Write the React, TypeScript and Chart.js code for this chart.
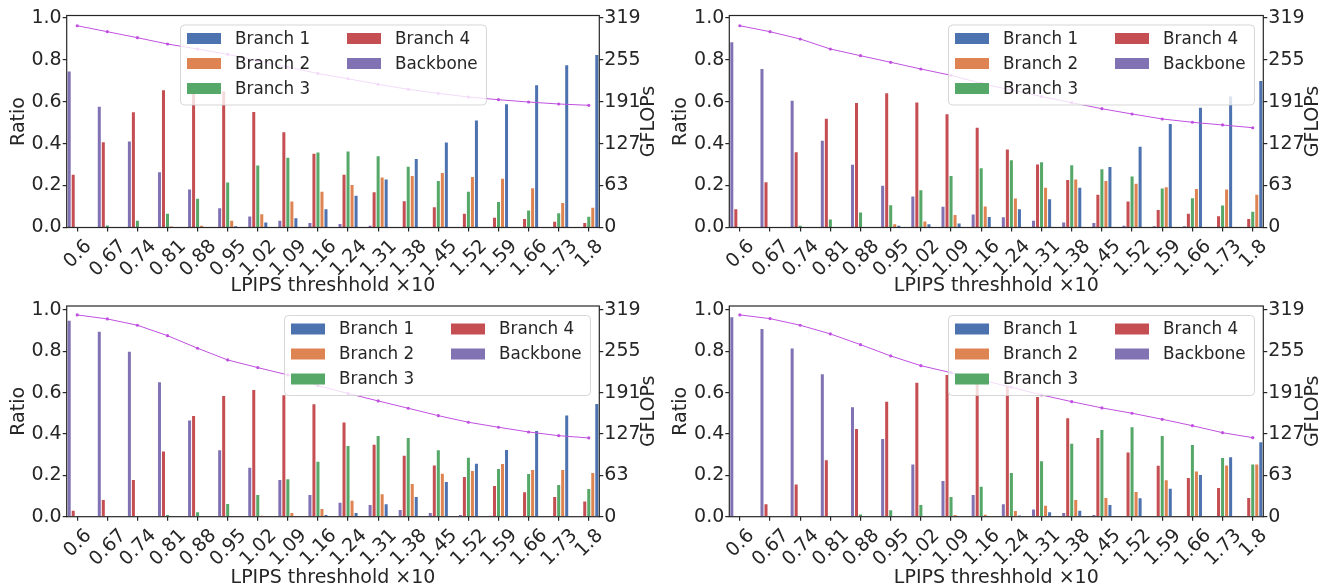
import React, { useEffect, useRef } from "react";
import { Chart, registerables } from "chart.js";

Chart.register(...registerables);

// ---------- data ----------
const thresholds = ["0.6", "0.67", "0.74", "0.81", "0.88", "0.95", "1.02", "1.09", "1.16", "1.24", "1.31", "1.38", "1.45", "1.52", "1.59", "1.66", "1.73", "1.8"];
const ratioTicks = [0, 0.2, 0.4, 0.6, 0.8, 1.0];
const gflopsTicks = [0, 63.8, 127.6, 191.4, 255.2, 319];

// top-left panel
const tlBranch1 = [0, 0, 0, 0, 0, 0.006, 0.024, 0.044, 0.087, 0.151, 0.229, 0.327, 0.405, 0.51, 0.587, 0.678, 0.773, 0.822];
const tlBranch2 = [0, 0, 0, 0.005, 0.008, 0.032, 0.063, 0.124, 0.17, 0.203, 0.238, 0.246, 0.26, 0.241, 0.232, 0.187, 0.117, 0.094];
const tlBranch3 = [0, 0.01, 0.032, 0.065, 0.137, 0.214, 0.295, 0.332, 0.357, 0.362, 0.34, 0.289, 0.222, 0.17, 0.121, 0.081, 0.068, 0.051];
const tlBranch4 = [0.251, 0.406, 0.549, 0.654, 0.655, 0.648, 0.551, 0.454, 0.351, 0.251, 0.168, 0.125, 0.097, 0.065, 0.046, 0.041, 0.027, 0.021];
const tlBackbone = [0.743, 0.576, 0.41, 0.263, 0.181, 0.092, 0.052, 0.032, 0.021, 0.017, 0.008, 0, 0, 0, 0, 0, 0, 0];
const tlGflops = [306.8, 297.7, 288.6, 279.0, 271.4, 263.3, 253.6, 243.9, 234.2, 226.2, 217.7, 210.1, 204.0, 198.4, 194.3, 190.8, 187.8, 185.8];

// top-right panel
const trBranch1 = [0, 0, 0, 0, 0, 0.008, 0.016, 0.019, 0.05, 0.087, 0.135, 0.189, 0.288, 0.385, 0.493, 0.571, 0.625, 0.698];
const trBranch2 = [0, 0, 0, 0, 0, 0.016, 0.029, 0.06, 0.1, 0.138, 0.189, 0.229, 0.222, 0.208, 0.192, 0.184, 0.181, 0.156];
const trBranch3 = [0, 0, 0.008, 0.038, 0.071, 0.106, 0.178, 0.245, 0.283, 0.321, 0.311, 0.297, 0.278, 0.243, 0.186, 0.14, 0.105, 0.075];
const trBranch4 = [0.087, 0.216, 0.359, 0.518, 0.593, 0.64, 0.596, 0.54, 0.475, 0.372, 0.3, 0.226, 0.156, 0.124, 0.084, 0.065, 0.054, 0.041];
const trBackbone = [0.883, 0.755, 0.604, 0.413, 0.299, 0.199, 0.148, 0.099, 0.062, 0.049, 0.032, 0.024, 0.022, 0.008, 0.006, 0.006, 0, 0];
const trGflops = [306.8, 297.7, 286.6, 271.4, 261.2, 251.2, 241.0, 231.4, 219.0, 209.0, 199.2, 189.8, 180.6, 172.6, 165.0, 160.0, 155.9, 151.7];

// bottom-left panel
const blBranch1 = [0, 0, 0, 0, 0, 0, 0, 0, 0.008, 0.018, 0.06, 0.095, 0.168, 0.256, 0.323, 0.415, 0.49, 0.545];
const blBranch2 = [0, 0, 0, 0, 0, 0, 0.005, 0.018, 0.037, 0.077, 0.108, 0.158, 0.208, 0.221, 0.255, 0.226, 0.226, 0.211];
const blBranch3 = [0, 0, 0, 0.008, 0.021, 0.061, 0.105, 0.181, 0.266, 0.342, 0.39, 0.381, 0.321, 0.285, 0.231, 0.206, 0.153, 0.134];
const blBranch4 = [0.029, 0.081, 0.177, 0.315, 0.487, 0.584, 0.613, 0.587, 0.544, 0.455, 0.348, 0.295, 0.248, 0.192, 0.148, 0.118, 0.095, 0.074];
const blBackbone = [0.948, 0.895, 0.798, 0.65, 0.465, 0.321, 0.237, 0.177, 0.105, 0.068, 0.056, 0.032, 0.018, 0.008, 0.005, 0, 0, 0];
const blGflops = [311.3, 305.1, 295.4, 279.3, 259.9, 241.8, 230.0, 218.7, 202.2, 190.1, 178.6, 167.3, 155.9, 145.7, 138.0, 130.7, 125.0, 121.5];

// bottom-right panel
const brBranch1 = [0, 0, 0, 0, 0, 0, 0, 0, 0, 0.006, 0.021, 0.029, 0.056, 0.089, 0.135, 0.202, 0.287, 0.36];
const brBranch2 = [0, 0, 0, 0, 0, 0, 0.002, 0.008, 0.01, 0.027, 0.053, 0.081, 0.09, 0.119, 0.176, 0.218, 0.248, 0.253];
const brBranch3 = [0, 0, 0, 0.003, 0.011, 0.031, 0.056, 0.095, 0.145, 0.211, 0.268, 0.353, 0.419, 0.432, 0.39, 0.347, 0.284, 0.253];
const brBranch4 = [0.003, 0.06, 0.156, 0.273, 0.424, 0.556, 0.648, 0.685, 0.665, 0.635, 0.579, 0.476, 0.381, 0.311, 0.247, 0.187, 0.139, 0.09];
const brBackbone = [0.965, 0.908, 0.813, 0.689, 0.529, 0.376, 0.252, 0.173, 0.105, 0.06, 0.035, 0.018, 0.008, 0.003, 0.003, 0, 0, 0];
const brGflops = [311.3, 305.6, 295.4, 282.0, 265.4, 248.0, 233.0, 222.2, 211.0, 199.7, 187.8, 177.5, 167.8, 159.6, 150.3, 140.4, 129.6, 121.9];

// ---------- style ----------
const FONT = "'DejaVu Sans', 'Liberation Sans', sans-serif";
const INK = "#262626";
const C_B1 = "#4C72B0";
const C_B2 = "#DD8452";
const C_B3 = "#55A868";
const C_B4 = "#C44E52";
const C_BB = "#8172B3";
const C_LINE = "#C050E0";
const TICK_SIZE = 19;
const LEGEND_SIZE = 16.8;

type PanelCfg = {
  left: number; top: number; w: number; h: number;
  plotLeft: number; plotRight: number; plotTop: number; plotBottom: number;
  yMax: number; legendLoc: "center" | "right";
  b1: number[]; b2: number[]; b3: number[]; b4: number[]; bb: number[]; gf: number[];
};

const panels: PanelCfg[] = [
  { left: 0, top: 0, w: 662, h: 292, plotLeft: 66.7, plotRight: 599.3, plotTop: 15.5, plotBottom: 227.5, yMax: 1.0105, legendLoc: "center",
    b1: tlBranch1, b2: tlBranch2, b3: tlBranch3, b4: tlBranch4, bb: tlBackbone, gf: tlGflops },
  { left: 662, top: 0, w: 663, h: 292, plotLeft: 67.3, plotRight: 601.3, plotTop: 15.5, plotBottom: 227.5, yMax: 1.0105, legendLoc: "right",
    b1: trBranch1, b2: trBranch2, b3: trBranch3, b4: trBranch4, bb: trBackbone, gf: trGflops },
  { left: 0, top: 292, w: 662, h: 292, plotLeft: 66.7, plotRight: 599.3, plotTop: 14, plotBottom: 224.7, yMax: 1.019, legendLoc: "right",
    b1: blBranch1, b2: blBranch2, b3: blBranch3, b4: blBranch4, bb: blBackbone, gf: blGflops },
  { left: 662, top: 292, w: 663, h: 292, plotLeft: 67.3, plotRight: 601.3, plotTop: 14, plotBottom: 224.7, yMax: 1.019, legendLoc: "right",
    b1: brBranch1, b2: brBranch2, b3: brBranch3, b4: brBranch4, bb: brBackbone, gf: brGflops },
];

function roundRectPath(ctx: CanvasRenderingContext2D, x: number, y: number, w: number, h: number, r: number) {
  ctx.beginPath();
  ctx.moveTo(x + r, y);
  ctx.lineTo(x + w - r, y);
  ctx.arcTo(x + w, y, x + w, y + r, r);
  ctx.lineTo(x + w, y + h - r);
  ctx.arcTo(x + w, y + h, x + w - r, y + h, r);
  ctx.lineTo(x + r, y + h);
  ctx.arcTo(x, y + h, x, y + h - r, r);
  ctx.lineTo(x, y + r);
  ctx.arcTo(x, y, x + r, y, r);
  ctx.closePath();
}

function buildChart(canvas: HTMLCanvasElement, cfg: PanelCfg) {
  const xy = (arr: number[]) => arr.map((v, i) => ({ x: i, y: v }));
  const bar = (label: string, color: string, arr: number[]) => ({
    type: "bar" as const,
    label,
    data: xy(arr),
    backgroundColor: color,
    borderWidth: 0,
    xAxisID: "x",
    yAxisID: "y",
    categoryPercentage: 0.667,
    barPercentage: 0.75,
    order: 1,
  });

  const decor = {
    id: "decor",
    afterDatasetsDraw(chart: any) {
      const { ctx, chartArea: a } = chart;
      ctx.save();
      ctx.strokeStyle = INK;
      ctx.lineWidth = 1.2;
      ctx.strokeRect(a.left, a.top, a.right - a.left, a.bottom - a.top);
      ctx.restore();
    },
    afterDraw(chart: any) {
      const { ctx, chartArea: a } = chart;
      const xs = chart.scales.x;
      ctx.save();
      // rotated x tick labels (centred under tick like matplotlib)
      ctx.font = `${TICK_SIZE}px ${FONT}`;
      ctx.fillStyle = INK;
      ctx.textAlign = "center";
      ctx.textBaseline = "middle";
      const th = TICK_SIZE * 1.164;
      thresholds.forEach((lab, i) => {
        const px = xs.getPixelForValue(i);
        const w = ctx.measureText(lab).width;
        const half = ((w + th) * Math.SQRT1_2) / 2;
        ctx.save();
        ctx.translate(px, a.bottom + 7.5 + half);
        ctx.rotate(-Math.PI / 4);
        ctx.fillText(lab, 0, 1);
        ctx.restore();
      });
      // right axis title
      ctx.save();
      ctx.translate(a.right + 50, (a.top + a.bottom) / 2);
      ctx.rotate(-Math.PI / 2);
      ctx.fillText("GFLOPs", 0, 0);
      ctx.restore();

      // legend
      const bw = 306, bh = 80;
      const bx = cfg.legendLoc === "center" ? (a.left + a.right) / 2 - bw / 2 : a.right - 9.3 - bw;
      const by = a.top + 9;
      roundRectPath(ctx, bx + 0.5, by + 0.5, bw, bh, 4);
      ctx.fillStyle = "rgba(255,255,255,0.8)";
      ctx.fill();
      ctx.strokeStyle = "rgba(204,204,204,0.8)";
      ctx.lineWidth = 1;
      ctx.stroke();
      const items: [string, string, number, number][] = [
        ["Branch 1", C_B1, 0, 0],
        ["Branch 2", C_B2, 0, 1],
        ["Branch 3", C_B3, 0, 2],
        ["Branch 4", C_B4, 1, 0],
        ["Backbone", C_BB, 1, 1],
      ];
      ctx.font = `${LEGEND_SIZE}px ${FONT}`;
      ctx.textAlign = "left";
      ctx.textBaseline = "middle";
      items.forEach(([lab, col, c, r]) => {
        const px = bx + 7 + c * 160;
        const cy = by + 14 + r * 25;
        ctx.fillStyle = col;
        ctx.fillRect(px, cy - 5.5, 34, 11);
        ctx.fillStyle = INK;
        ctx.fillText(lab, px + 48, cy + 1);
      });
      ctx.restore();
    },
  };

  const tickFont = { family: FONT, size: TICK_SIZE };
  const gridCfg = { display: true, drawOnChartArea: false, drawTicks: true, tickLength: 4, color: INK, lineWidth: 1.2, offset: false };

  return new Chart(canvas, {
    type: "bar",
    data: {
      datasets: [
        {
          type: "line" as const,
          label: "GFLOPs",
          data: xy(cfg.gf),
          borderColor: C_LINE,
          backgroundColor: C_LINE,
          borderWidth: 1,
          pointRadius: 1.6,
          pointBorderWidth: 0,
          pointBackgroundColor: C_LINE,
          xAxisID: "x",
          yAxisID: "y2",
          order: 0,
        } as any,
        bar("Backbone", C_BB, cfg.bb),
        bar("Branch 4", C_B4, cfg.b4),
        bar("Branch 3", C_B3, cfg.b3),
        bar("Branch 2", C_B2, cfg.b2),
        bar("Branch 1", C_B1, cfg.b1),
      ],
    },
    options: {
      responsive: false,
      animation: false,
      devicePixelRatio: 1,
      layout: { padding: { top: cfg.plotTop, left: 0, right: 0, bottom: 0 } },
      plugins: { legend: { display: false }, tooltip: { enabled: false } },
      scales: {
        x: {
          type: "linear",
          position: "bottom",
          min: -0.35,
          max: 17.35,
          offset: false,
          afterBuildTicks: (s: any) => { s.ticks = thresholds.map((_, i) => ({ value: i })); },
          ticks: { display: false },
          grid: gridCfg,
          border: { display: false },
          title: { display: true, text: "LPIPS threshhold ×10", color: INK, font: tickFont, padding: { top: 0, bottom: -5.2 } },
          afterFit: (s: any) => { s.height = cfg.h - cfg.plotBottom; },
        },
        y: {
          type: "linear",
          position: "left",
          min: 0,
          max: cfg.yMax,
          afterBuildTicks: (s: any) => { s.ticks = ratioTicks.map((v) => ({ value: v })); },
          ticks: { callback: (v: any) => Number(v).toFixed(1), color: INK, font: tickFont, padding: 1 },
          grid: gridCfg,
          border: { display: false },
          title: { display: true, text: "Ratio", color: INK, font: tickFont, padding: { top: 7.6, bottom: 0 } },
          afterFit: (s: any) => { s.width = cfg.plotLeft; },
        },
        y2: {
          type: "linear",
          position: "right",
          min: 0,
          max: 319 * cfg.yMax,
          afterBuildTicks: (s: any) => { s.ticks = gflopsTicks.map((v) => ({ value: v })); },
          ticks: { callback: (v: any) => String(Math.floor(Number(v))), color: INK, font: tickFont, padding: 1 },
          grid: gridCfg,
          border: { display: false },
          title: { display: false },
          afterFit: (s: any) => { s.width = cfg.w - cfg.plotRight; },
        },
      },
    } as any,
    plugins: [decor],
  });
}

function Panel({ cfg }: { cfg: PanelCfg }) {
  const ref = useRef<HTMLCanvasElement>(null);
  useEffect(() => {
    if (!ref.current) return;
    const chart = buildChart(ref.current, cfg);
    return () => chart.destroy();
  }, [cfg]);
  return (
    <canvas
      ref={ref}
      width={cfg.w}
      height={cfg.h}
      style={{ position: "absolute", left: cfg.left, top: cfg.top, width: cfg.w, height: cfg.h }}
    />
  );
}

export default function App() {
  return (
    <div style={{ position: "absolute", left: 0, top: 0, width: 1325, height: 584, background: "#ffffff", overflow: "hidden" }}>
      {panels.map((p, i) => (
        <Panel key={i} cfg={p} />
      ))}
    </div>
  );
}
